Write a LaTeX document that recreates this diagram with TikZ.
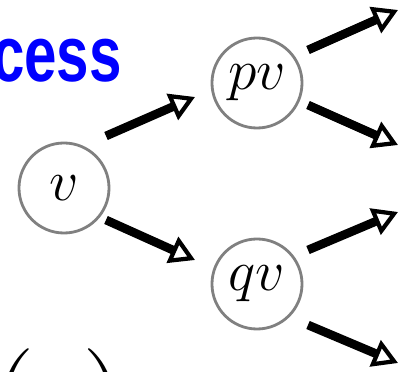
\RequirePackage{fix-cm}
\documentclass[tikz,border=0pt]{standalone}
\usepackage{fontspec}
\newfontfamily\headfont{Liberation Sans}
\usetikzlibrary{arrows.meta,calc}
\begin{document}
\begin{tikzpicture}[x=0.025cm, y=-0.025cm,
    state/.style={draw=gray, line width=2pt, circle, minimum size=2.25cm, inner sep=0pt,
      font=\fontsize{41}{45}\selectfont},
    edge/.style={line width=6.2pt, -{Triangle[open, line width=3pt, length=0.62cm, width=0.7cm]}}]
    \useasboundingbox (0,0) rectangle (403,372);
    \clip (0,0) rectangle (403,372);

    \node[state] (v) at (64,188) {$v$};
    \node[state] (pv) at (257,83) {$pv$};
    \node[state] (qv) at (257,284) {$qv$};

    \draw[edge] ($(v)+(42,-52)$) -- ($(pv)+(-62,14)$);
    \draw[edge] ($(v)+(42,32)$) -- ($(qv)+(-62,-24)$);
    \draw[edge] ($(pv)+(51,-33)$) -- ++(90,-40);
    \draw[edge] ($(pv)+(51,22)$) -- ++(90,40);
    \draw[edge] ($(qv)+(51,-34)$) -- ++(90,-38);
    \draw[edge] ($(qv)+(51,41)$) -- ++(90,38);

    \node[anchor=base east, inner sep=0pt, xscale=0.74, text=blue,
      font=\headfont\bfseries\fontsize{56}{60}\selectfont] (title) at (122,82) {cess};
    \node[anchor=north east, inner sep=0pt, font=\fontsize{90}{96}\selectfont] (lpar) at (36,348) {$($};
    \node[anchor=north west, inner sep=0pt, font=\fontsize{90}{96}\selectfont] (rpar) at (82,348) {$)$};
\end{tikzpicture}
\end{document}
